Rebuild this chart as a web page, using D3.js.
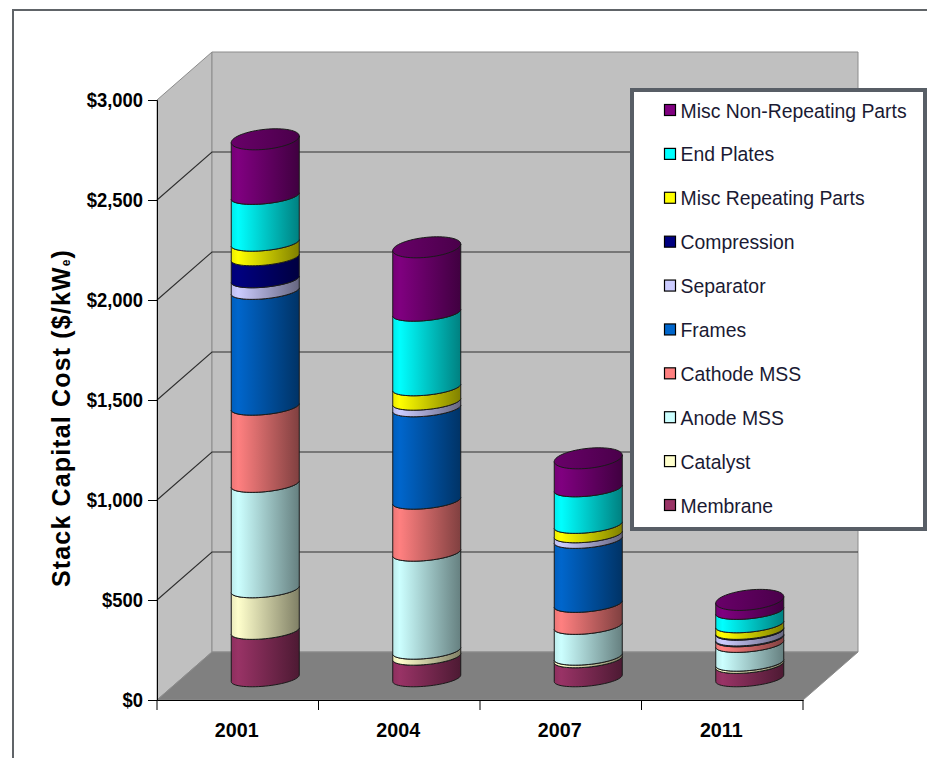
<!DOCTYPE html>
<html><head><meta charset="utf-8">
<style>html,body{margin:0;padding:0;background:#fff}svg{display:block}</style>
<script src="https://cdnjs.cloudflare.com/ajax/libs/d3/7.8.5/d3.min.js"></script>
</head><body><svg id="c" width="927" height="758"></svg>
<script>
const years = ["2001","2004","2007","2011"];
const seriesNames = ["Membrane","Catalyst","Anode MSS","Cathode MSS","Frames","Separator","Compression","Misc Repeating Parts","End Plates","Misc Non-Repeating Parts"];
const seriesColors = ["#993366","#FFFFCC","#CCFFFF","#FF8080","#0066CC","#CCCCFF","#000080","#FFFF00","#00FFFF","#800080"];
const membrane   = [237,108,95,67];
const catalyst   = [208,30,13,11];
const anodeMSS   = [527,490,154,94];
const cathodeMSS = [386,260,110,28];
const frames     = [579,462,320,4];
const separator  = [58,33,28,29];
const compression= [110,0,0,4];
const miscRep    = [73,72,47,33];
const endPlates  = [234,373,183,67];
const miscNonRep = [283,327,150,55];
const allSeries = [membrane,catalyst,anodeMSS,cathodeMSS,frames,separator,compression,miscRep,endPlates,miscNonRep];
const yTicks = [0,500,1000,1500,2000,2500,3000];
const yTitle = "Stack Capital Cost ($/kW";

const svg = d3.select("#c");
const x = d3.scaleBand().domain(years).range([157,803]);
const y = d3.scaleLinear().domain([0,3000]).range([700,100]);
const depthX = 55, depthY = 48;
const barDX = 27.5, barDY = 21.7, rx = 34, skew = 3.3, ry = 7.8, capRy = 10;

// squeeze a text horizontally to a fraction of its natural width
const squeeze = (sel,k)=>sel.each(function(){
  const n=this.getComputedTextLength();
  d3.select(this).attr("textLength",n*k).attr("lengthAdjust","spacingAndGlyphs");
});

// frame
svg.append("path").attr("d","M13,760V10H929").attr("fill","none").attr("stroke","#606468").attr("stroke-width",2);

// walls
const x0 = x.range()[0], x1 = x.range()[1];
const poly = pts => d3.line()(pts)+"Z";
svg.append("path").attr("d",poly([[x0,y(3000)],[x0+depthX,y(3000)-depthY],[x0+depthX,y(0)-depthY],[x0,y(0)]])).attr("fill","#c0c0c0").attr("stroke","#8c8c8c");
svg.append("path").attr("d",poly([[x0+depthX,y(3000)-depthY],[x1+depthX,y(3000)-depthY],[x1+depthX,y(0)-depthY],[x0+depthX,y(0)-depthY]])).attr("fill","#c0c0c0").attr("stroke","#8c8c8c");
svg.append("path").attr("d",poly([[x0,y(0)],[x0+depthX,y(0)-depthY],[x1+depthX,y(0)-depthY],[x1,y(0)]])).attr("fill","#808080").attr("stroke","#8c8c8c");

// gridlines
yTicks.filter(t=>t>0&&t<3000).forEach(t=>{
  svg.append("path").attr("d",d3.line()([[x0,y(t)],[x0+depthX,y(t)-depthY],[x1+depthX,y(t)-depthY]]))
    .attr("fill","none").attr("stroke","#2e2e2e").attr("stroke-width",1.1);
});

// axes
const font = "'Liberation Sans',Arial,sans-serif";
const ax = svg.append("g").attr("transform",`translate(${x0},0)`).call(d3.axisLeft(y).tickValues(yTicks).tickSize(9).tickFormat(d3.format("$,")));
ax.selectAll("text").attr("font-family",font).attr("font-weight","bold").attr("font-size",20).attr("fill","#000").attr("x",-14).call(squeeze,0.92);
ax.selectAll("path,line").attr("stroke","#000");
const bx = svg.append("g").attr("transform",`translate(0,${y(0)})`).call(d3.axisBottom(x).tickSize(0));
bx.selectAll("text").attr("font-family",font).attr("font-weight","bold").attr("font-size",20.5).attr("fill","#000").attr("y",22).attr("dx",-1).call(squeeze,0.96);
bx.select("path").attr("stroke","#000");
x.domain().concat(["end"]).forEach((d,i)=>{
  const px = x0 + i*x.step();
  bx.append("line").attr("x1",px).attr("x2",px).attr("y1",0).attr("y2",10).attr("stroke","#000");
});

// y title
svg.append("text").attr("transform","translate(69.5,418) rotate(-90)").attr("text-anchor","middle")
  .attr("font-family",font).attr("font-weight","bold").attr("font-size",25).attr("letter-spacing",1.15).attr("fill","#000")
  .call(t=>{
    t.append("tspan").text(yTitle);
    t.append("tspan").attr("font-size",12).attr("dy",0).text("e");
    t.append("tspan").text(")");
  });

// gradients
const defs = svg.append("defs");
const shade = (c,k)=>{const r=d3.rgb(c);return d3.rgb(r.r*k,r.g*k,r.b*k).formatHex();};
seriesColors.forEach((c,i)=>{
  const g = defs.append("linearGradient").attr("id","g"+i).attr("x1",0).attr("x2",1).attr("y1",0).attr("y2",0);
  g.append("stop").attr("offset","0").attr("stop-color",shade(c,0.92));
  g.append("stop").attr("offset","0.1").attr("stop-color",c);
  g.append("stop").attr("offset","1").attr("stop-color",shade(c,0.5));
});
const capG = defs.append("linearGradient").attr("id","cap").attr("x1",0).attr("x2",1).attr("y1",0).attr("y2",0);
capG.append("stop").attr("offset","0").attr("stop-color",shade(seriesColors[9],0.82));
capG.append("stop").attr("offset","1").attr("stop-color",shade(seriesColors[9],0.58));

// bars
const ts = d3.range(0,33).map(i=>Math.PI*i/32); // 0..pi
const ell = (cx,cy,t,b)=>[cx+rx*Math.cos(t), cy-skew*Math.cos(t)+b*Math.sin(t)];
const stackRows = years.map((yr,i)=>{const o={year:yr};seriesNames.forEach((n,s)=>o[n]=allSeries[s][i]);return o;});
const stacked = d3.stack().keys(seriesNames)(stackRows);
const line = d3.line();
years.forEach((yr,i)=>{
  const cx = x(yr)+x.bandwidth()/2+barDX;
  const g = svg.append("g");
  for(let s=0;s<stacked.length;s++){
    const [a,b] = stacked[s][i];
    if(b-a<=0) continue;
    const yb = y(a)-barDY, yt = y(b)-barDY;
    const top = ts.map(t=>ell(cx,yt,t,ry));
    const bot = ts.map(t=>ell(cx,yb,t,ry)).reverse();
    g.append("path").attr("d",line(top.concat(bot))+"Z")
      .attr("fill",`url(#g${s})`).attr("stroke","#1a1a1a").attr("stroke-width",1).attr("stroke-linejoin","round");
  }
  const topV = stacked[stacked.length-1][i][1];
  const capY = y(topV)-barDY;
  const cap = ts.map(t=>ell(cx,capY,t,capRy)).concat(ts.map(t=>ell(cx,capY,t,-capRy)).reverse());
  g.append("path").attr("d",line(cap)+"Z").attr("fill","url(#cap)").attr("stroke","#1a1a1a").attr("stroke-width",1);
});

// legend
const lg = svg.append("g");
lg.append("rect").attr("x",632).attr("y",90).attr("width",293).attr("height",439).attr("fill","#fff").attr("stroke","#585e66").attr("stroke-width",4);
const ly = d3.scalePoint().domain(seriesNames.slice().reverse()).range([110,505]);
seriesNames.forEach((n,s)=>{
  lg.append("rect").attr("x",664.5).attr("y",ly(n)-5.5).attr("width",11).attr("height",11).attr("fill",seriesColors[s]).attr("stroke","#000").attr("stroke-width",1.2);
  lg.append("text").attr("x",680.5).attr("y",ly(n)+7.5).attr("font-family",font).attr("font-size",20.5).attr("fill","#1a1a33").text(n).call(squeeze,0.945);
});
</script></body></html>
